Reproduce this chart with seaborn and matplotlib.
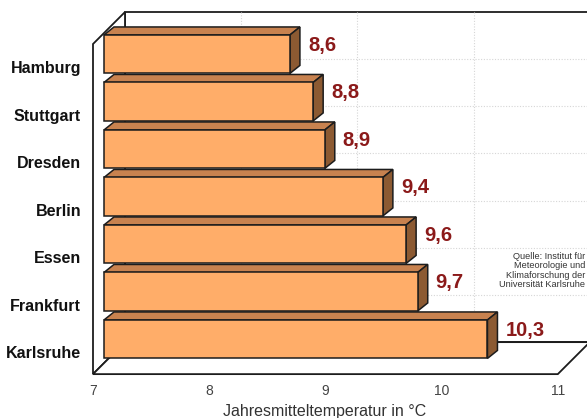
import matplotlib
matplotlib.use("Agg")
import matplotlib.pyplot as plt
import pandas as pd
import seaborn as sns
from matplotlib.patches import Polygon
from matplotlib.transforms import ScaledTranslation

# Annual mean temperatures of German cities
cities = ["Hamburg", "Stuttgart", "Dresden", "Berlin", "Essen", "Frankfurt", "Karlsruhe"]
temps = [8.6, 8.8, 8.9, 9.4, 9.6, 9.7, 10.3]
x_ticks = [7, 8, 9, 10, 11]
x_label = "Jahresmitteltemperatur in °C"
source = "Quelle: Institut für\nMeteorologie und\nKlimaforschung der\nUniversität Karlsruhe"

BASE, XMAX = 7.0, 11.0

FRONT_C = "#FFAD69"
TOP_C = "#C8824F"
SIDE_C = "#8C5A32"
EDGE_C = "#1c1c1c"
VALUE_C = "#8B1A1A"

sns.set_theme(style="white")
plt.rcParams["font.family"] = ["Liberation Sans", "DejaVu Sans"]

W_PX, H_PX = 587, 418
fig = plt.figure(figsize=(W_PX / 100, H_PX / 100), dpi=100)
ax = fig.add_axes([93 / W_PX, 1 - 374 / H_PX, (587 - 93) / W_PX, (374 - 12) / H_PX])

df = pd.DataFrame({"Stadt": cities, "Temperatur": temps})
sns.barplot(data=df, x="Temperatur", y="Stadt", orient="h", width=0.81,
            color=FRONT_C, saturation=1, edgecolor=EDGE_C, linewidth=1.1, ax=ax)

# linear scales: pixels per degree and per category row
PX_PER_DEG = 116.2
PX_PER_ROW = 47.5
x0 = BASE - 11 / PX_PER_DEG
ax.set_xlim(x0, x0 + (587 - 93) / PX_PER_DEG)
row_top = -(54.2 - 12) / PX_PER_ROW
ax.set_ylim(row_top + (374 - 12) / PX_PER_ROW, row_top)


def sh(x, y, px, py):
    """shift a data point by px pixels right and py pixels up"""
    return (x + px / PX_PER_DEG, y - py / PX_PER_ROW)


# pseudo-3D box: front plane, bar plane (data), back plane
WALL_TOP, FLOOR = -0.52, 6.43
FRONT_OFF = (-11, -14.5)
BACK_OFF = (21, 17.5)
DEPTH = (10, 8)


def front(x, y):
    return sh(x, y, *FRONT_OFF)


def back(x, y):
    return sh(x, y, *BACK_OFF)


wall_kw = dict(facecolor="white", edgecolor=EDGE_C, linewidth=1.3,
               clip_on=False, joinstyle="miter")
ax.add_patch(Polygon([back(BASE, WALL_TOP), back(XMAX, WALL_TOP),
                      back(XMAX, FLOOR), back(BASE, FLOOR)], zorder=0.5, **wall_kw))

grid_kw = dict(ls=(0, (1, 1.5)), color="#d6d6d6", lw=0.8, zorder=0.6, clip_on=False)
for v in x_ticks[1:-1]:
    p, q = back(v, WALL_TOP), back(v, FLOOR)
    ax.plot([p[0], q[0]], [p[1], q[1]], **grid_kw)
n = len(cities)
for k in range(1, n):
    yk = WALL_TOP + (FLOOR - WALL_TOP) * k / n
    p, q = back(BASE, yk), back(XMAX, yk)
    ax.plot([p[0], q[0]], [p[1], q[1]], **grid_kw)

ax.add_patch(Polygon([front(BASE, WALL_TOP), back(BASE, WALL_TOP),
                      back(BASE, FLOOR), front(BASE, FLOOR)], zorder=0.7, **wall_kw))
ax.add_patch(Polygon([front(BASE, FLOOR), front(XMAX, FLOOR),
                      back(XMAX, FLOOR), back(BASE, FLOOR)], zorder=0.7, **wall_kw))

# bars: start at the base value, add top and side faces
for i, (patch, v) in enumerate(zip(ax.patches[:n], temps)):
    patch.set_x(BASE)
    patch.set_width(v - BASE)
    z = 2 + (n - i) * 0.1
    patch.set_zorder(z + 0.02)
    y_top = patch.get_y()
    y_bot = y_top + patch.get_height()
    face_kw = dict(edgecolor=EDGE_C, linewidth=1.1, joinstyle="miter")
    ax.add_patch(Polygon([(BASE, y_top), (v, y_top), sh(v, y_top, *DEPTH),
                          sh(BASE, y_top, *DEPTH)], facecolor=TOP_C, zorder=z, **face_kw))
    ax.add_patch(Polygon([(v, y_top), sh(v, y_top, *DEPTH), sh(v, y_bot, *DEPTH),
                          (v, y_bot)], facecolor=SIDE_C, zorder=z + 0.01, **face_kw))
    tx, ty = sh(v, i, DEPTH[0] + 8, 9)
    ax.text(tx, ty, f"{v:.1f}".replace(".", ","), ha="left", va="center",
            fontsize=14.5, fontweight="bold", color=VALUE_C, zorder=5)

# axes text
for s in ax.spines.values():
    s.set_visible(False)
ax.set_xticks(x_ticks)
ax.set_xticklabels([str(t) for t in x_ticks])
ax.tick_params(axis="x", length=0, pad=7, labelsize=10, labelcolor="#444444")
ax.tick_params(axis="y", length=0, pad=8.6, labelsize=11.5, labelcolor="#111111")
for lab in ax.get_yticklabels():
    lab.set_fontweight("bold")
    lab.set_transform(lab.get_transform() + ScaledTranslation(0, -13 / 100, fig.dpi_scale_trans))
for lab in ax.get_xticklabels():
    lab.set_transform(lab.get_transform() + ScaledTranslation(-11 / 100, 0, fig.dpi_scale_trans))

ax.set_ylabel("")
ax.set_xlabel(x_label, fontsize=11.5, color="#333333")
ax.xaxis.set_label_coords((324.5 - 93) / 494, -(404 - 374) / 362)

ax.text(0.996, 0.286, source, transform=ax.transAxes, ha="right", va="center",
        multialignment="right", fontsize=6.6, linespacing=1.05, color="#333333", zorder=5)

fig.savefig("out.png", dpi=100, facecolor="white")
